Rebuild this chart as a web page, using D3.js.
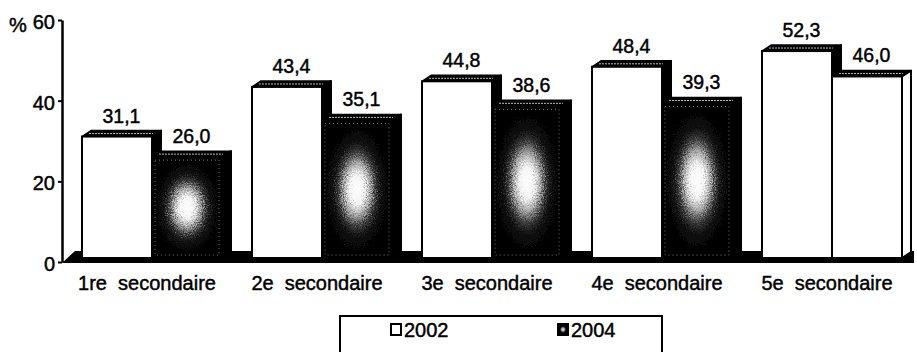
<!DOCTYPE html>
<html><head><meta charset="utf-8">
<script src="https://cdn.jsdelivr.net/npm/d3@7"></script>
<style>html,body{margin:0;padding:0;background:#fff;} svg{display:block;font-family:"Liberation Sans",Arial,sans-serif;}</style>
</head><body><svg id="c" width="917" height="352"></svg>
<script>
const categories = ["1re  secondaire","2e  secondaire","3e  secondaire","4e  secondaire","5e  secondaire"];
const seriesNames = ["2002","2004"];
const values2002 = [31.1,43.4,44.8,48.4,52.3];
const values2004 = [26.0,35.1,38.6,39.3,46.0];
const labels2002 = ["31,1","43,4","44,8","48,4","52,3"];
const labels2004 = ["26,0","35,1","38,6","39,3","46,0"];
const yTicks = [0,20,40,60];
const yUnit = "%";

const svg = d3.select("#c");
const W = 917, H = 352;
svg.append("rect").attr("width",W).attr("height",H).attr("fill","#fff");

const defs = svg.append("defs");
const rg = defs.append("radialGradient").attr("id","spot").attr("cx","0.5").attr("cy","0.5").attr("r","0.5");
[[0,"#fff"],[0.22,"#f4f4f4"],[0.38,"#a8a8a8"],[0.54,"#3a3a3a"],[0.7,"#0c0c0c"],[1,"#000"]].forEach(s=>
  rg.append("stop").attr("offset",s[0]).attr("stop-color",s[1]));
const lg = defs.append("radialGradient").attr("id","spotSmall").attr("cx","0.5").attr("cy","0.5").attr("r","0.5");
lg.append("stop").attr("offset","0").attr("stop-color","#fff");
lg.append("stop").attr("offset","0.3").attr("stop-color","#999");
lg.append("stop").attr("offset","0.6").attr("stop-color","#000");
lg.append("stop").attr("offset","1").attr("stop-color","#000");
const flt = defs.append("filter").attr("id","grain").attr("x",0).attr("y",0).attr("width",1).attr("height",1);
flt.append("feTurbulence").attr("type","fractalNoise").attr("baseFrequency",0.9).attr("numOctaves",2).attr("seed",4).attr("result","n");
flt.append("feDisplacementMap").attr("in","SourceGraphic").attr("in2","n").attr("scale",16)
  .attr("xChannelSelector","R").attr("yChannelSelector","G");

const x0 = d3.scaleBand().domain(categories).range([62, 912]);
const xs = d3.scaleBand().domain(seriesNames).range([20, 160]);
const y = d3.scaleLinear().domain([0,60]).range([262,20]);
const dx = 9, dy = -6;
const baseY = y(0) - 4;
const backY = baseY + dy;
const textStroke = t => t.attr("fill","#000").attr("stroke","#000").attr("stroke-width",0.45);

// floor
svg.append("polygon")
  .attr("points", [[62, y(0)+1],[62+13, backY-1],[914, backY-1],[914, y(0)+1]].map(p=>p.join(",")).join(" "))
  .attr("fill","#000");

const rows = categories.map((c,i)=>({c,i,vals:[
  {s:seriesNames[0], v:values2002[i], lab:labels2002[i]},
  {s:seriesNames[1], v:values2004[i], lab:labels2004[i]}]}));

const g = svg.append("g");
rows.forEach(r=>{
  r.vals.forEach(d=>{
    const lastDark = r.i === categories.length-1 && d.s === seriesNames[1];
    const plain = d.s === seriesNames[0] || lastDark;
    const x1 = x0(r.c) + xs(d.s), x2 = x1 + xs.bandwidth();
    const yt = y(d.v);
    const bg = g.append("g");
    bg.append("polygon")
      .attr("points",[[x2,yt],[x2+dx,yt+dy],[x2+dx,backY],[x2,baseY]].map(p=>p.join(",")).join(" "))
      .attr("fill", lastDark ? "#fff" : "#000")
      .attr("stroke","#000").attr("stroke-width",2).attr("stroke-linejoin","round");
    bg.append("polygon")
      .attr("points",[[x1,yt],[x1+dx,yt+dy],[x2+dx,yt+dy],[x2,yt]].map(p=>p.join(",")).join(" "))
      .attr("fill","#000").attr("stroke","#000").attr("stroke-width",1.5).attr("stroke-linejoin","round");
    bg.append("line").attr("x1",x1+dx-2).attr("x2",x2+1).attr("y1",yt+dy/2).attr("y2",yt+dy/2)
      .attr("stroke","#bbb").attr("stroke-width",1).attr("stroke-dasharray","2,1");
    if(plain){
      bg.append("rect").attr("x",x1).attr("y",yt).attr("width",x2-x1).attr("height",baseY-yt)
        .attr("fill","#fff").attr("stroke","#000").attr("stroke-width",2);
    } else {
      bg.append("rect").attr("x",x1).attr("y",yt).attr("width",x2-x1).attr("height",baseY-yt).attr("fill","#000");
      bg.append("rect").attr("x",x1).attr("y",yt).attr("width",x2-x1).attr("height",baseY-yt)
        .attr("fill","url(#spot)").attr("filter","url(#grain)");
      bg.append("rect").attr("x",x1+3).attr("y",yt+3).attr("width",x2-x1-6).attr("height",baseY-yt-6)
        .attr("fill","none").attr("stroke","#777").attr("stroke-width",1).attr("stroke-dasharray","1,3");
      bg.append("rect").attr("x",x1).attr("y",yt).attr("width",x2-x1).attr("height",baseY-yt)
        .attr("fill","none").attr("stroke","#000").attr("stroke-width",2);
    }
    g.append("text").attr("x",(x1+x2)/2 + dx/2).attr("y",yt-14)
      .attr("text-anchor","middle").attr("font-size",19.5).text(d.lab).call(textStroke);
  });
});

// y axis
const ax = svg.append("g").attr("transform","translate(62,0)")
  .call(d3.axisLeft(y).tickValues(yTicks).tickSize(4).tickSizeOuter(0).tickFormat(d3.format("d")));
ax.select(".domain").attr("stroke","#000").attr("stroke-width",2.5);
ax.selectAll(".tick line").attr("stroke","#000").attr("stroke-width",2);
ax.selectAll(".tick text").attr("font-size",20).attr("x",-7).attr("dy","0.42em")
  .attr("font-family","'Liberation Sans',Arial,sans-serif").call(textStroke);
svg.append("text").attr("x",9).attr("y",32).attr("font-size",20).text(yUnit).call(textStroke);

// category labels
svg.append("g").selectAll("text").data(categories).join("text")
  .attr("x",c=>x0(c)+x0.bandwidth()/2).attr("y",290)
  .attr("text-anchor","middle").attr("font-size",20).style("white-space","pre").text(c=>c).call(textStroke);

// legend
const leg = svg.append("g");
leg.append("rect").attr("x",340).attr("y",316).attr("width",322).attr("height",60)
  .attr("fill","#fff").attr("stroke","#000").attr("stroke-width",2);
const legX = [390, 557];
seriesNames.forEach((s,i)=>{
  leg.append("rect").attr("x",legX[i]+1).attr("y",324).attr("width",10).attr("height",11)
    .attr("fill", i===0 ? "#fff" : "url(#spotSmall)").attr("stroke","#000").attr("stroke-width",2);
  leg.append("text").attr("x",legX[i]+14).attr("y",337).attr("font-size",20).text(s).call(textStroke);
});
</script></body></html>
